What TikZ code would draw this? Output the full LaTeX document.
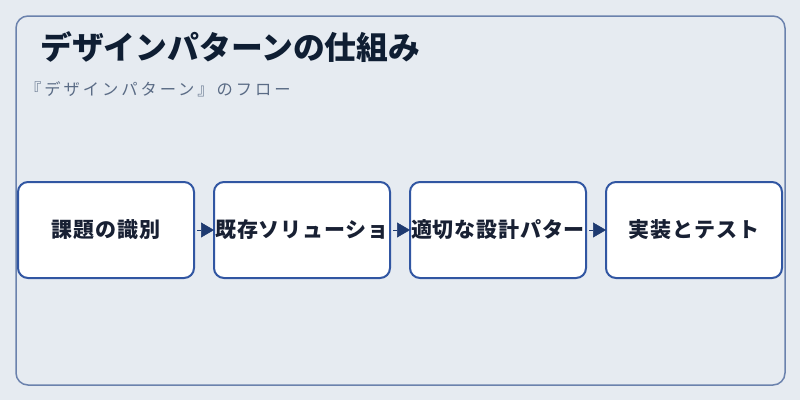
\documentclass[tikz,border=0pt]{standalone}
\usepackage{fontspec}
\usetikzlibrary{arrows.meta}
\newfontfamily\jp{Noto Sans CJK JP}
\newfontfamily\jpbox[LetterSpace=4]{Noto Sans CJK JP}
\newfontfamily\jpsub[LetterSpace=18]{Noto Sans CJK JP}
\definecolor{bgc}{HTML}{E6EBF1}
\definecolor{framec}{HTML}{6B82AD}
\definecolor{boxc}{HTML}{3156A2}
\definecolor{arrc}{HTML}{1E3A70}
\definecolor{titlec}{HTML}{0F1E33}
\definecolor{subc}{HTML}{5A6B85}
\definecolor{textc}{HTML}{182033}
\tikzset{
  stepbox/.style={draw=boxc, line width=2pt, fill=white, rounded corners=10pt,
    minimum width=176pt, minimum height=96pt, inner sep=0pt,
    font=\jpbox\bfseries\fontsize{21}{24}\selectfont, text=textc},
  flow/.style={draw=arrc, line width=0.5pt, -{Triangle[length=13pt,width=15pt]}, shorten <=2pt, shorten >=-1pt}
}
\begin{document}
\begin{tikzpicture}[x=1pt,y=-1pt]
\useasboundingbox[fill=bgc] (0,0) rectangle (800,400);
\draw[framec, line width=1.5pt, rounded corners=12pt] (16,16) rectangle (785,385);
\node[anchor=west, font=\jp\bfseries\fontsize{31.8}{36}\selectfont, text=titlec, inner sep=0pt] (title) at (40,47) {デザインパターンの仕組み};
\node[anchor=west, font=\jpsub\fontsize{16.3}{20}\selectfont, text=subc, inner sep=0pt] (sub) at (25,89) {『デザインパターン』のフロー};
\node[stepbox] (b1) at (106,230) {課題の識別};
\node[stepbox] (b2) at (302,230) {既存ソリューショ};
\node[stepbox] (b3) at (498,230) {適切な設計パター};
\node[stepbox] (b4) at (694,230) {実装とテスト};
\draw[flow] (b1) -- (b2);
\draw[flow] (b2) -- (b3);
\draw[flow] (b3) -- (b4);
\end{tikzpicture}
\end{document}
